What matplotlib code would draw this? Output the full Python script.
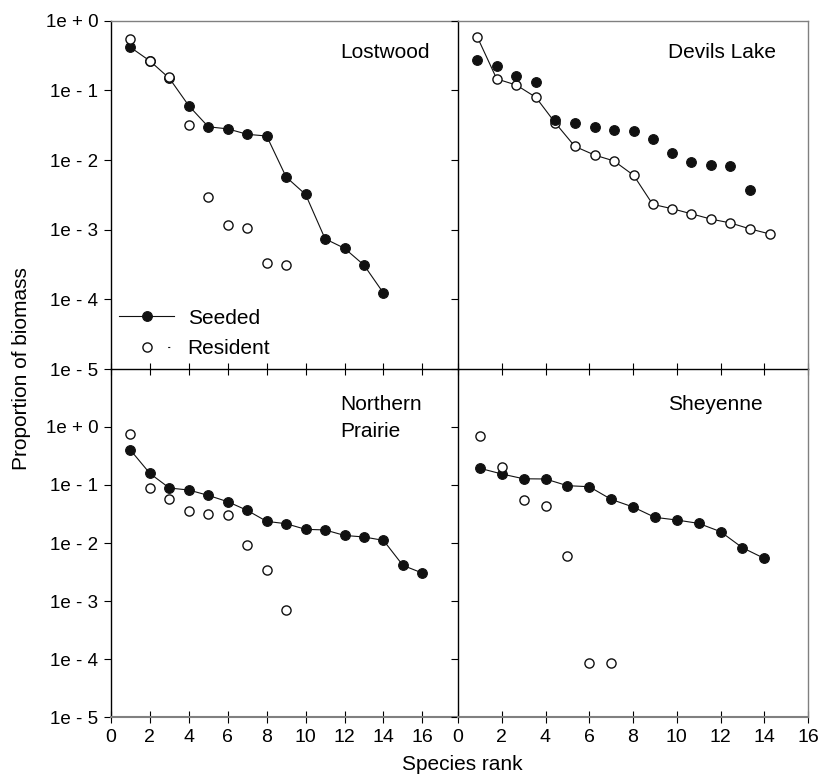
import matplotlib
matplotlib.use("Agg")
import matplotlib.pyplot as plt
from matplotlib.lines import Line2D

plt.rcParams['font.family'] = ['Liberation Sans', 'DejaVu Sans']

# ---------------- data ----------------
lost_seeded_x = [1, 2, 3, 4, 5, 6, 7, 8, 9, 10, 11, 12, 13, 14]
lost_seeded = [0.415, 0.264, 0.149, 0.060, 0.030, 0.028, 0.0234, 0.0221,
               0.0057, 0.0032, 7.4e-4, 5.4e-4, 3.1e-4, 1.23e-4]
lost_resident_x = [1, 2, 3, 4, 5, 6, 7, 8, 9]
lost_resident = [0.55, 0.264, 0.154, 0.032, 0.00294, 0.00118, 0.00104, 3.3e-4, 3.14e-4]

devils_seeded_x = [0.89, 1.77, 2.67, 3.56, 4.45, 5.34, 6.24, 7.13, 8.03, 8.90,
                   9.79, 10.67, 11.56, 12.45, 13.33]
devils_seeded = [0.273, 0.224, 0.163, 0.133, 0.0372, 0.034, 0.0298, 0.0267, 0.0261,
                 0.0202, 0.0127, 0.00925, 0.0085, 0.0083, 0.00375]
devils_resident_x = [0.89, 1.77, 2.67, 3.56, 4.45, 5.34, 6.24, 7.13, 8.03, 8.90,
                     9.79, 10.67, 11.56, 12.45, 13.33, 14.24]
devils_resident = [0.577, 0.146, 0.119, 0.0795, 0.034, 0.0157, 0.0118, 0.0097, 0.00603,
                   0.00231, 0.0020, 0.00169, 0.00142, 0.00125, 0.00103, 8.7e-4]

np_seeded_x = [1, 2, 3, 4, 5, 6, 7, 8, 9, 10, 11, 12, 13, 14, 15, 16]
np_seeded = [0.40, 0.158, 0.0887, 0.0819, 0.0662, 0.0515, 0.0365, 0.0236, 0.0215,
             0.0172, 0.0168, 0.0135, 0.0127, 0.0111, 0.00411, 0.00303]
np_resident_x = [1, 2, 3, 4, 5, 6, 7, 8, 9]
np_resident = [0.757, 0.0875, 0.0566, 0.036, 0.032, 0.0308, 0.00924, 0.00337, 6.98e-4]

sh_seeded_x = [1, 2, 3, 4, 5, 6, 7, 8, 9, 10, 11, 12, 13, 14]
sh_seeded = [0.194, 0.155, 0.128, 0.127, 0.0973, 0.0935, 0.0566, 0.0418, 0.0277,
             0.0249, 0.0218, 0.0157, 0.0083, 0.00543]
sh_resident_x = [1, 2, 3, 4, 5, 6, 7]
sh_resident = [0.70, 0.207, 0.0543, 0.0434, 0.00597, 8.4e-5, 8.4e-5]

site_names = ["Lostwood", "Devils Lake", "Northern\nPrairie", "Sheyenne"]
y_ticks = [1, 1e-1, 1e-2, 1e-3, 1e-4, 1e-5]
y_ticklabels = ["1e + 0", "1e - 1", "1e - 2", "1e - 3", "1e - 4", "1e - 5"]
x_ticks = [0, 2, 4, 6, 8, 10, 12, 14, 16]
x_ticklabels = ["0", "2", "4", "6", "8", "10", "12", "14", "16"]

# ---------------- figure ----------------
W, H = 833, 780
fig = plt.figure(figsize=(W / 100, H / 100), dpi=100)

def pos(x0, y0, x1, y1):
    return [x0 / W, 1 - y1 / H, (x1 - x0) / W, (y1 - y0) / H]

ax_tl = fig.add_axes(pos(111, 20.7, 458, 369))
ax_tr = fig.add_axes(pos(458, 20.7, 808, 369))
ax_bl = fig.add_axes(pos(111, 369, 458, 717))
ax_br = fig.add_axes(pos(458, 369, 808, 717))

filled_kw = dict(marker='o', markersize=7, markerfacecolor='#111111',
                 markeredgecolor='#111111', markeredgewidth=0.8, color='#111111')
open_kw = dict(marker='o', markersize=6.6, markerfacecolor='white',
               markeredgecolor='#111111', markeredgewidth=1.0, color='#111111')
LW = 0.8
GRAY = '#808080'

# Lostwood
ax_tl.plot(lost_seeded_x, lost_seeded, lw=LW, zorder=3, **filled_kw)
ax_tl.plot(lost_resident_x, lost_resident, ls='none', zorder=4, **open_kw)
# Devils Lake
ax_tr.plot(devils_resident_x, devils_resident, lw=LW, zorder=3, **open_kw)
ax_tr.plot(devils_seeded_x, devils_seeded, ls='none', zorder=4, **filled_kw)
# Northern Prairie
ax_bl.plot(np_seeded_x, np_seeded, lw=LW, zorder=3, **filled_kw)
ax_bl.plot(np_resident_x, np_resident, ls='none', zorder=4, **open_kw)
# Sheyenne
ax_br.plot(sh_seeded_x, sh_seeded, lw=LW, zorder=3, **filled_kw)
ax_br.plot(sh_resident_x, sh_resident, ls='none', zorder=4, **open_kw)

YTICK_FS = 13.5
XTICK_FS = 14
for ax, top, left in [(ax_tl, True, True), (ax_tr, True, False),
                      (ax_bl, False, True), (ax_br, False, False)]:
    ax.patch.set_visible(False)
    ax.set_yscale('log')
    ax.set_ylim(1e-5, 1 if top else 10)
    ax.set_xlim(0, 17.83 if left else 16)
    ax.set_yticks(y_ticks)
    ax.minorticks_off()
    ax.set_xticks(x_ticks)
    if left:
        ax.set_yticklabels(y_ticklabels, fontsize=YTICK_FS)
    else:
        ax.set_yticklabels([])
    if top:
        ax.set_xticklabels([])
    else:
        ax.set_xticklabels(x_ticklabels, fontsize=XTICK_FS)
    ax.tick_params(axis='y', direction='out', length=5, width=0.8, pad=4, colors='black')
    ax.tick_params(axis='x', direction='inout', length=9, width=0.8, pad=4, colors='black')
    for s in ax.spines.values():
        s.set_linewidth(1.0)
        s.set_color('black')
    if top:
        ax.spines['top'].set_color(GRAY)
    else:
        ax.spines['bottom'].set_color(GRAY)
        ax.spines['bottom'].set_linewidth(1.5)
        ax.spines['top'].set_visible(False)
    if not left:
        ax.spines['right'].set_color(GRAY)
    else:
        ax.spines['right'].set_visible(False)

NAME_FS = 15
ax_tl.text(0.66, 0.892, site_names[0], transform=ax_tl.transAxes, fontsize=NAME_FS,
           ha='left', va='baseline')
ax_tr.text(0.60, 0.892, site_names[1], transform=ax_tr.transAxes, fontsize=NAME_FS,
           ha='left', va='baseline')
np_lines = site_names[2].split("\n")
ax_bl.text(0.66, 0.882, np_lines[0], transform=ax_bl.transAxes, fontsize=NAME_FS,
           ha='left', va='baseline')
ax_bl.text(0.66, 0.805, np_lines[1], transform=ax_bl.transAxes, fontsize=NAME_FS,
           ha='left', va='baseline')
ax_br.text(0.60, 0.882, site_names[3], transform=ax_br.transAxes, fontsize=NAME_FS,
           ha='left', va='baseline')

# legend
h_seed = Line2D([], [], lw=LW, **filled_kw)
h_res = Line2D([], [], lw=LW, linestyle=(83.1, (1.9, 125)), **open_kw)
leg = ax_tl.legend([h_seed, h_res], ["Seeded", "Resident"], loc='upper left',
                   bbox_to_anchor=(0.023, 0.173), frameon=False, fontsize=NAME_FS,
                   borderpad=0, borderaxespad=0, handlelength=2.65,
                   handletextpad=0.65, labelspacing=0.56)

fig.text(22 / W, 1 - 369 / H, "Proportion of biomass", rotation=90, fontsize=15,
         ha='center', va='center')
fig.text(462 / W, 1 - 765 / H, "Species rank", fontsize=15, ha='center', va='center')

fig.savefig("out.png", dpi=100)
